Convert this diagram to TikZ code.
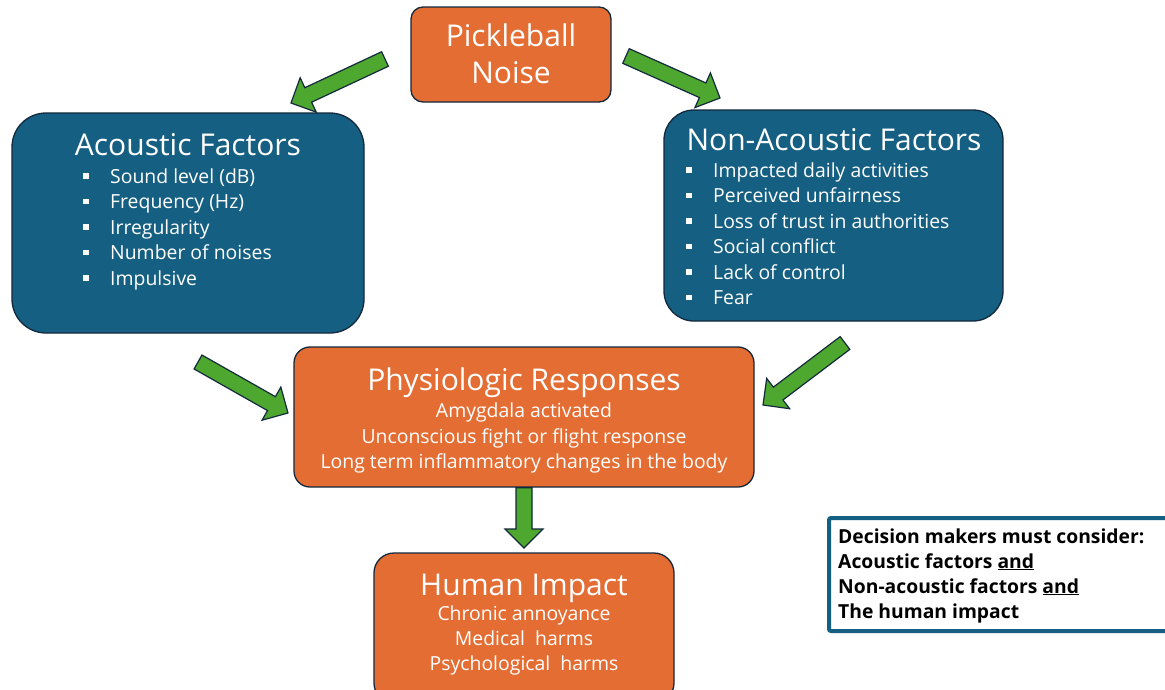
\documentclass[tikz,border=0pt]{standalone}
\usepackage{fontspec}
\setmainfont{Open Sans}
\usetikzlibrary{calc}
\definecolor{orng}{HTML}{E46D33}
\definecolor{blu}{HTML}{155F82}
\definecolor{edge}{HTML}{13293D}
\definecolor{grn}{HTML}{4EA72E}
\newcommand\blockarrow[2]{%
  \path ($(#2)!19pt!(#1)$) coordinate (hb);
  \draw[arrowsty] ($(#1)!8pt!90:(#2)$) -- ($(hb)!8pt!90:(#2)$) -- ($(hb)!19pt!90:(#2)$) -- (#2)
    -- ($(hb)!19pt!-90:(#2)$) -- ($(hb)!8pt!-90:(#2)$) -- ($(#1)!8pt!-90:(#2)$) -- cycle;}
\newcommand\sqb{\makebox[27pt][l]{\raisebox{4.5pt}{\rule{5.5pt}{5.5pt}}}}
\begin{document}
\begin{tikzpicture}[x=1pt,y=-1pt,
  box/.style={draw=edge, line width=1.3pt, inner sep=0pt},
  obox/.style={box, fill=orng},
  bbox/.style={box, fill=blu},
  arrowsty/.style={draw=edge, line width=1.2pt, fill=grn, line join=miter},
  ttl/.style={text=white, inner sep=0pt, anchor=base, font=\fontsize{30}{32}\selectfont},
  sub/.style={text=white, inner sep=0pt, anchor=base, font=\fontsize{19.4}{22}\selectfont},
  itm/.style={text=white, inner sep=0pt, anchor=base west, font=\fontsize{19.4}{22}\selectfont},
  dec/.style={text=black, inner sep=0pt, anchor=base west, font=\fontsize{19.3}{22}\selectfont\bfseries}]
\clip (0,0) rectangle (1165,689);
\useasboundingbox (0,0) rectangle (1165,689);
\fill[white] (0,0) rectangle (1165,689);
% boxes
\node[obox, rounded corners=12pt, minimum width=200pt, minimum height=95pt] (pn) at (511,54.5) {};
\node[bbox, rounded corners=34pt, minimum width=352pt, minimum height=220pt] (ac) at (188,223) {};
\node[bbox, rounded corners=30pt, minimum width=339pt, minimum height=211pt] (na) at (833.5,215.5) {};
\node[obox, rounded corners=16pt, minimum width=460pt, minimum height=140pt] (ph) at (524,417) {};
\node[obox, rounded corners=20pt, minimum width=300pt, minimum height=150pt] (hi) at (524,628) {};
\node[draw=blu, line width=4pt, fill=white, rounded corners=2pt, minimum width=345pt, minimum height=113pt] (dm) at (1001.5,574.5) {};
% texts
\node[ttl] (pnt1) at (511,46) {Pickleball};
\node[ttl] (pnt2) at (511,83) {Noise};
\node[ttl] (act) at (188,155) {Acoustic Factors};
\foreach \t [count=\i] in {Sound level (dB),Frequency (Hz),Irregularity,Number of noises,Impulsive}
  \node[itm] (aci\i) at (83,{157.5+25.5*\i}) {\sqb\t};
\node[ttl] (nat) at (834,150) {Non-Acoustic Factors};
\foreach \t [count=\i] in {Impacted daily activities,Perceived unfairness,Loss of trust in authorities,Social conflict,Lack of control,Fear}
  \node[itm] (nai\i) at (686,{151.5+25.5*\i}) {\sqb\t};
\node[ttl] (pht) at (524,390) {Physiologic Responses};
\node[sub] (ph1) at (524,417.5) {Amygdala activated};
\node[sub] (ph2) at (524,443) {Unconscious fight or flight response};
\node[sub] (ph3) at (524,468.5) {Long term inflammatory changes in the body};
\node[ttl] (hit) at (524,595) {Human Impact};
\node[sub] (hi1) at (524,620) {Chronic annoyance};
\node[sub] (hi2) at (524,645) {Medical\ \ harms};
\node[sub] (hi3) at (524,670) {Psychological\ \ harms};
\node[dec] (d1) at (838,543) {Decision makers must consider:};
\node[dec] (d2) at (838,568) {Acoustic factors \underline{and}};
\node[dec] (d3) at (838,593) {Non-acoustic factors \underline{and}};
\node[dec] (d4) at (838,618) {The human impact};
% arrows
\coordinate (a1t) at (385,59); \coordinate (a1h) at (291,103);
\coordinate (a2t) at (626,56); \coordinate (a2h) at (720,98);
\coordinate (a3t) at (198,362); \coordinate (a3h) at (288,413);
\coordinate (a4t) at (845,343); \coordinate (a4h) at (763,405);
\coordinate (a5t) at (ph.south); \coordinate (a5h) at (524,548);
\blockarrow{a1t}{a1h}
\blockarrow{a2t}{a2h}
\blockarrow{a3t}{a3h}
\blockarrow{a4t}{a4h}
\blockarrow{a5t}{a5h}
\end{tikzpicture}
\end{document}
